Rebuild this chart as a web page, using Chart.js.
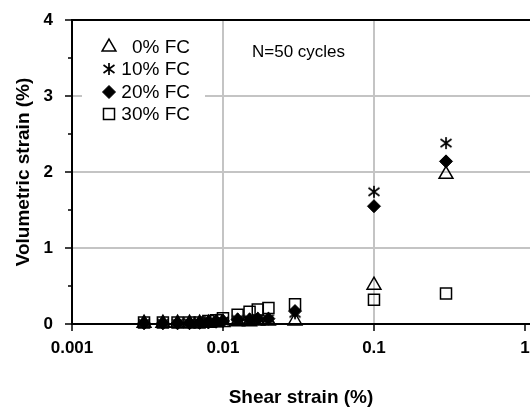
<!DOCTYPE html>
<html>
<head>
<meta charset="utf-8">
<script src="https://cdn.jsdelivr.net/npm/chart.js"></script>
<style>
  html, body { margin: 0; padding: 0; background: #fff; }
  #wrap { width: 530px; height: 410px; }
</style>
</head>
<body>
<div id="wrap"><canvas id="strainChart" width="530" height="410"></canvas></div>
<script>
// shear strain (%) for every test point
var shearStrain = [0.003, 0.004, 0.005, 0.006, 0.007, 0.008, 0.009, 0.01, 0.0125, 0.015, 0.017, 0.02, 0.03, 0.1, 0.3];

// volumetric strain (%) per fines content
var fc0 = [0.01, 0.01, 0.01, 0.01, 0.01, 0.01, 0.015, 0.02, 0.03, 0.03, 0.04, 0.04, 0.04, 0.51, 1.97];
var fc10 = [0.01, 0.01, 0.01, 0.015, 0.02, 0.03, 0.03, 0.04, 0.06, 0.06, 0.07, 0.07, 0.14, 1.74, 2.38];
var fc20 = [0.01, 0.01, 0.01, 0.01, 0.015, 0.02, 0.03, 0.04, 0.06, 0.06, 0.07, 0.07, 0.17, 1.55, 2.14];
var fc30 = [0.02, 0.02, 0.02, 0.02, 0.02, 0.04, 0.05, 0.075, 0.12, 0.16, 0.19, 0.21, 0.26, 0.32, 0.40];

var seriesLabels = ['0% FC', '10% FC', '20% FC', '30% FC'];
var xTicks = [0.001, 0.01, 0.1, 1];
var yTicks = [0, 1, 2, 3, 4];

var fontFamily = "'Liberation Sans', Arial, sans-serif";

function toPoints(ys) {
    var pts = [];
    for (var i = 0; i < shearStrain.length; i++) {
        pts.push({ x: shearStrain[i], y: ys[i] });
    }
    return pts;
}

// six armed asterisk marker
function makeAsterisk() {
    var c = document.createElement('canvas');
    c.width = 14;
    c.height = 14;
    var g = c.getContext('2d');
    g.strokeStyle = '#000';
    g.lineWidth = 1.7;
    g.beginPath();
    g.moveTo(7, 1); g.lineTo(7, 13);
    g.moveTo(1.5, 3); g.lineTo(12.5, 11);
    g.moveTo(1.5, 11); g.lineTo(12.5, 3);
    g.stroke();
    return c;
}
var asterisk = makeAsterisk();

var datasets = [
    { label: seriesLabels[0], data: toPoints(fc0), pointStyle: 'triangle', pointRadius: 8,
      backgroundColor: 'rgba(0,0,0,0)', borderColor: '#000', borderWidth: 1.5, order: 2 },
    { label: seriesLabels[1], data: toPoints(fc10), pointStyle: asterisk, pointRadius: 7,
      backgroundColor: '#000', borderColor: '#000', borderWidth: 1.5, order: 1 },
    { label: seriesLabels[2], data: toPoints(fc20), pointStyle: 'rectRot', pointRadius: 6.5,
      backgroundColor: '#000', borderColor: '#000', borderWidth: 1, order: 0 },
    { label: seriesLabels[3], data: toPoints(fc30), pointStyle: 'rect', pointRadius: 7.8,
      backgroundColor: 'rgba(0,0,0,0)', borderColor: '#000', borderWidth: 1.5, order: 3 }
];
for (var d = 0; d < datasets.length; d++) {
    datasets[d].pointHoverRadius = datasets[d].pointRadius;
    datasets[d].pointBorderWidth = datasets[d].borderWidth;
    datasets[d].showLine = false;
    datasets[d].clip = false;
}

function drawMarker(ctx, ds, x, y) {
    ctx.save();
    ctx.fillStyle = ds.backgroundColor;
    ctx.strokeStyle = ds.borderColor;
    ctx.lineWidth = ds.borderWidth;
    Chart.helpers.drawPoint(ctx, {
        pointStyle: ds.pointStyle,
        radius: ds.pointRadius,
        rotation: 0,
        borderWidth: ds.borderWidth
    }, x, y);
    ctx.restore();
}

var decorations = {
    id: 'decorations',
    afterDraw: function(chart) {
        var ctx = chart.ctx;
        var area = chart.chartArea;
        var yScale = chart.scales.y;

        ctx.save();
        // top frame line
        ctx.strokeStyle = '#000';
        ctx.lineWidth = 2;
        ctx.beginPath();
        ctx.moveTo(area.left - 1, area.top);
        ctx.lineTo(area.right, area.top);
        ctx.stroke();

        // minor ticks on the y axis
        ctx.lineWidth = 1.5;
        ctx.beginPath();
        for (var v = 0.5; v < 4; v += 1) {
            var py = yScale.getPixelForValue(v);
            ctx.moveTo(area.left - 4, py);
            ctx.lineTo(area.left, py);
        }
        ctx.stroke();

        // legend box
        ctx.fillStyle = '#fff';
        ctx.fillRect(82, 30, 123, 95);
        var rows = [47, 69, 92, 114];
        ctx.font = '19px ' + fontFamily;
        ctx.textAlign = 'right';
        ctx.textBaseline = 'middle';
        for (var i = 0; i < chart.data.datasets.length; i++) {
            drawMarker(ctx, chart.data.datasets[i], 109, rows[i]);
            ctx.fillStyle = '#000';
            ctx.fillText(chart.data.datasets[i].label, 190, rows[i] + 1);
        }

        // annotation
        ctx.font = '17px ' + fontFamily;
        ctx.textAlign = 'left';
        ctx.fillText('N=50 cycles', 252, 52);
        ctx.restore();
    }
};

var config = {
    type: 'scatter',
    data: { datasets: datasets },
    options: {
        responsive: false,
        animation: false,
        devicePixelRatio: 1,
        layout: { autoPadding: false, padding: { top: 20, left: 0, right: 0, bottom: 0 } },
        plugins: {
            legend: { display: false },
            tooltip: { enabled: false }
        },
        scales: {
            x: {
                type: 'logarithmic',
                min: 0.001,
                max: 1.08,
                afterBuildTicks: function(scale) {
                    scale.ticks = xTicks.map(function(v) { return { value: v, major: true }; });
                },
                afterFit: function(scale) {
                    scale.height = 86;
                    scale.paddingLeft = 0;
                    scale.paddingRight = 0;
                },
                ticks: {
                    autoSkip: false,
                    maxRotation: 0,
                    padding: 7,
                    color: '#000',
                    font: { family: fontFamily, size: 17, weight: 'bold' },
                    callback: function(value) { return String(value); }
                },
                grid: {
                    color: function(c) {
                        var v = c.tick ? c.tick.value : 0;
                        return (v > 0.002 && v < 0.5) ? '#c4c4c4' : 'rgba(0,0,0,0)';
                    },
                    lineWidth: 2,
                    tickColor: '#000',
                    tickWidth: 1.5,
                    tickLength: 7
                },
                border: { color: '#000', width: 2 },
                title: {
                    display: true,
                    text: 'Shear strain (%)',
                    color: '#000',
                    font: { family: fontFamily, size: 19, weight: 'bold' },
                    padding: { top: 0, bottom: 1 }
                }
            },
            y: {
                min: 0,
                max: 4,
                afterBuildTicks: function(scale) {
                    scale.ticks = yTicks.map(function(v) { return { value: v }; });
                },
                afterFit: function(scale) {
                    scale.width = 72;
                    scale.paddingTop = 0;
                    scale.paddingBottom = 0;
                },
                ticks: {
                    padding: 12,
                    color: '#000',
                    font: { family: fontFamily, size: 17, weight: 'bold' }
                },
                grid: {
                    color: function(c) {
                        var v = c.tick ? c.tick.value : 0;
                        return (v > 0 && v < 4) ? '#c4c4c4' : 'rgba(0,0,0,0)';
                    },
                    lineWidth: 2,
                    tickColor: '#000',
                    tickWidth: 1.5,
                    tickLength: 7
                },
                border: { color: '#000', width: 2 },
                title: {
                    display: true,
                    text: 'Volumetric strain (%)',
                    color: '#000',
                    font: { family: fontFamily, size: 19, weight: 'bold' },
                    padding: { top: 12, bottom: 0 }
                }
            }
        }
    },
    plugins: [decorations]
};

var strainChart = new Chart(document.getElementById('strainChart').getContext('2d'), config);
</script>
</body>
</html>
